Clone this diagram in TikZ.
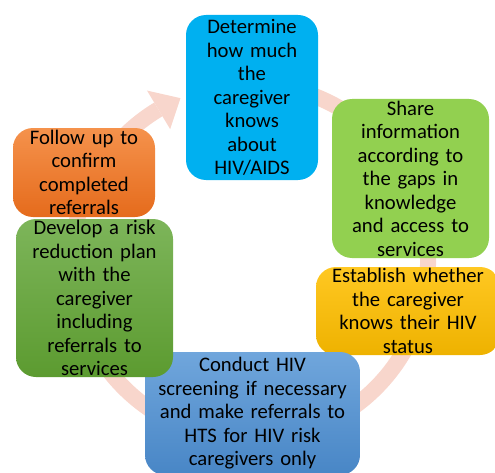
\documentclass[tikz,border=0pt]{standalone}
\usepackage{fontspec}
\setmainfont{Carlito}
\usetikzlibrary{calc}

\definecolor{ringpink}{RGB}{248,214,204}
\definecolor{skyblue}{RGB}{0,176,240}
\definecolor{limegreen}{RGB}{146,208,80}
\definecolor{ambertop}{RGB}{255,200,34}
\definecolor{amberbot}{RGB}{238,178,0}
\definecolor{steeltop}{RGB}{112,166,220}
\definecolor{steelbot}{RGB}{72,134,198}
\definecolor{leaftop}{RGB}{125,181,90}
\definecolor{leafbot}{RGB}{92,155,48}
\definecolor{orangetop}{RGB}{245,146,76}
\definecolor{orangebot}{RGB}{229,107,28}

\begin{document}
\begin{tikzpicture}[x=0.75pt,y=0.75pt,
  stepbox/.style={rounded corners=15pt, inner xsep=0pt, inner ysep=0pt,
    align=center, text=black,
    font=\fontsize{15.5pt}{17.6pt}\selectfont},
  ringline/.style={draw=ringpink, line width=12pt, line cap=butt}
]
\useasboundingbox (0,0) rectangle (495,472);

% circular arrow behind the steps
\coordinate (ctr) at (250,210);
\draw[ringline] (ctr) ++(100:178) arc[start angle=100, end angle=-239, radius=178];
\fill[ringpink] ($(ctr)+(121:155)$) -- ($(ctr)+(113:178)$) -- ($(ctr)+(121:200)$) -- cycle;

% steps of the cycle
\node[stepbox, fill=skyblue, text width=99pt, minimum height=123.75pt]
  (determine) at (252,374.5)
  {Determine\\how much\\the\\caregiver\\knows\\about\\HIV/AIDS};

\node[stepbox, fill=limegreen, text width=117.75pt, minimum height=119.25pt]
  (share) at (410.5,293.5)
  {Share\\information\\according to\\the gaps in\\knowledge\\and access to\\services};

\node[stepbox, top color=ambertop, bottom color=amberbot, text width=138pt, minimum height=66pt]
  (establish) at (408,161)
  {Establish whether\\the caregiver\\knows their HIV\\status};

\node[stepbox, top color=steeltop, bottom color=steelbot, text width=161.25pt, minimum height=92.25pt]
  (conduct) at (252.5,58.5)
  {Conduct HIV\\screening if necessary\\and make referrals to\\HTS for HIV risk\\caregivers only};

\node[stepbox, top color=leaftop, bottom color=leafbot, text width=117.75pt, minimum height=118.5pt]
  (develop) at (94.5,174)
  {Develop a risk\\reduction plan\\with the\\caregiver\\including\\referrals to\\services};

\node[stepbox, top color=orangetop, bottom color=orangebot, text width=106.5pt, minimum height=66.75pt]
  (follow) at (84,299.5)
  {Follow up to\\confirm\\completed\\referrals};
\end{tikzpicture}
\end{document}
